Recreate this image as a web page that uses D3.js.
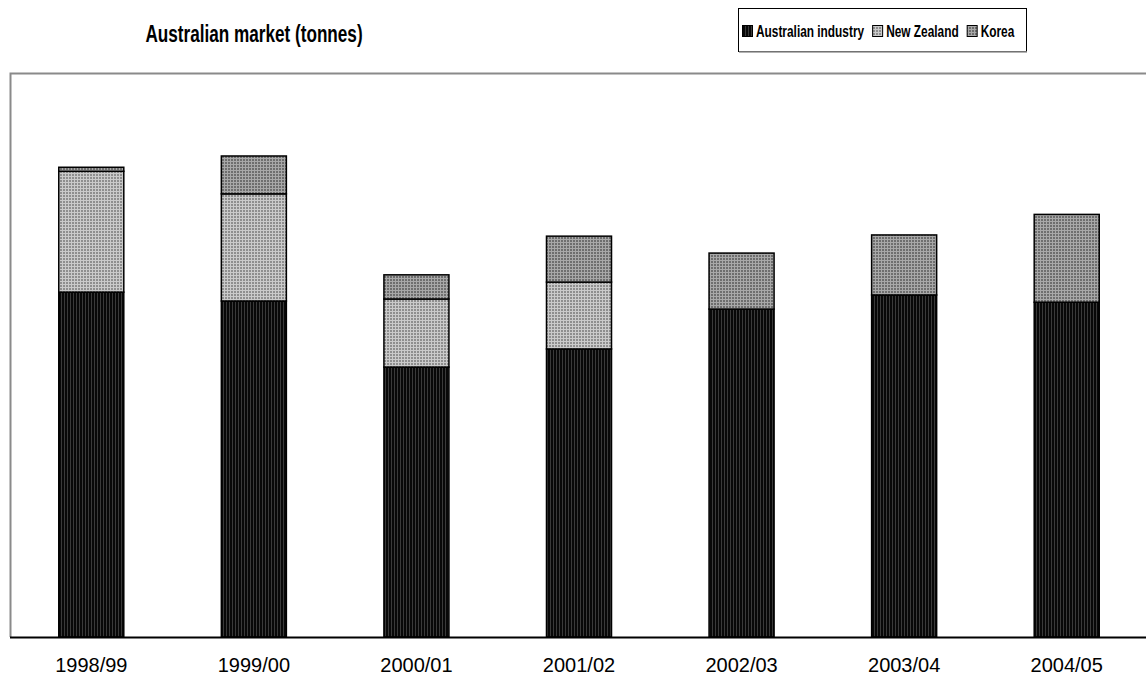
<!DOCTYPE html>
<html>
<head>
<meta charset="utf-8">
<script src="https://cdn.jsdelivr.net/npm/d3@7"></script>
<style>
  html, body { margin: 0; padding: 0; background: #fff; }
  svg { display: block; font-family: "Liberation Sans", Arial, sans-serif; }
</style>
</head>
<body>
<svg id="chart" width="1146" height="682"></svg>
<script>
// Australian market volumes by financial year (tonnes)
const years = ["1998/99", "1999/00", "2000/01", "2001/02", "2002/03", "2003/04", "2004/05"];
const australianIndustry = [8560, 8340, 6700, 7150, 8140, 8490, 8310];
const newZealand = [3000, 2660, 1690, 1660, 0, 0, 0];
const korea = [100, 940, 600, 1140, 1390, 1490, 2180];
const seriesNames = ["Australian industry", "New Zealand", "Korea"];
const yMax = 14000;

const svg = d3.select("#chart");
const W = 1146, H = 682;
const plot = { left: 10, top: 73, right: 1148, bottom: 637 };

// Fill patterns for each series
const defs = svg.append("defs");
function pat(id, w, h, bg, rects) {
  const p = defs.append("pattern").attr("id", id).attr("patternUnits", "userSpaceOnUse")
    .attr("width", w).attr("height", h);
  p.append("rect").attr("width", w).attr("height", h).attr("fill", bg);
  rects.forEach(r => p.append("rect").attr("x", r[0]).attr("y", r[1]).attr("width", r[2]).attr("height", r[3]).attr("fill", r[4]));
}
pat("p-aus", 3, 3, "#080808", [[1, 0, 1, 3, "#3a3a3a"]]);
pat("p-nz", 3, 3, "#cacaca", [[0, 0, 2, 2, "#8e8e8e"]]);
pat("p-kor", 3, 3, "#a8a8a8", [[0, 0, 2, 2, "#6e6e6e"]]);
const fills = ["url(#p-aus)", "url(#p-nz)", "url(#p-kor)"];

const x = d3.scaleBand().domain(years).range([plot.left, plot.right]).paddingInner(0.6).paddingOuter(0.3);
const y = d3.scaleLinear().domain([0, yMax]).range([plot.bottom, plot.top]);

const table = years.map((yr, i) => ({
  year: yr,
  "Australian industry": australianIndustry[i],
  "New Zealand": newZealand[i],
  "Korea": korea[i]
}));
const stacked = d3.stack().keys(seriesNames)(table);

// Plot frame
svg.append("path")
  .attr("d", `M${plot.left + 0.5},${plot.bottom}V${plot.top + 0.5}H${W + 2}`)
  .attr("fill", "none").attr("stroke", "#8a8a8a").attr("stroke-width", 2);

// Stacked bars
stacked.forEach((layer, si) => {
  svg.append("g").selectAll("rect")
    .data(layer.filter(d => d[1] - d[0] > 0))
    .join("rect")
    .attr("x", d => x(d.data.year))
    .attr("width", x.bandwidth())
    .attr("y", d => y(d[1]))
    .attr("height", d => y(d[0]) - y(d[1]))
    .attr("fill", fills[si])
    .attr("stroke", "#000")
    .attr("stroke-width", 1.5);
});

// Category axis
const xAxis = svg.append("g")
  .attr("transform", `translate(0,${plot.bottom})`)
  .call(d3.axisBottom(x).tickSize(0).tickPadding(21));
xAxis.select(".domain").attr("d", `M${plot.left},0.5H${W + 2}`).attr("stroke", "#000").attr("stroke-width", 2);
xAxis.selectAll("text").attr("font-size", 20).attr("fill", "#000")
  .attr("font-family", "'Liberation Sans', Arial, sans-serif");

// Title (condensed bold face)
svg.append("text")
  .attr("transform", "translate(254,42) scale(0.73,1)")
  .attr("text-anchor", "middle")
  .attr("font-size", 23.5).attr("font-weight", "bold").text("Australian market (tonnes)");

// Legend
const lg = svg.append("g");
lg.append("rect").attr("x", 738.5).attr("y", 8.5).attr("width", 288).attr("height", 43)
  .attr("fill", "#fff").attr("stroke", "#000").attr("stroke-width", 1);
lg.append("line").attr("x1", 739).attr("x2", 1027).attr("y1", 52).attr("y2", 52)
  .attr("stroke", "#999").attr("stroke-width", 1.5);
const sx = 0.72;
let cx = 742;
seriesNames.forEach((name, i) => {
  lg.append("rect").attr("x", cx + 0.5).attr("y", 25.5).attr("width", 10).attr("height", 11)
    .attr("fill", fills[i]).attr("stroke", "#000").attr("stroke-width", 1);
  const t = lg.append("text").attr("transform", `translate(${cx + 14},37) scale(${sx},1)`)
    .attr("font-size", 16.5).attr("font-weight", "bold").text(name);
  cx += 14 + t.node().getComputedTextLength() * sx + 8;
});
</script>
</body>
</html>
